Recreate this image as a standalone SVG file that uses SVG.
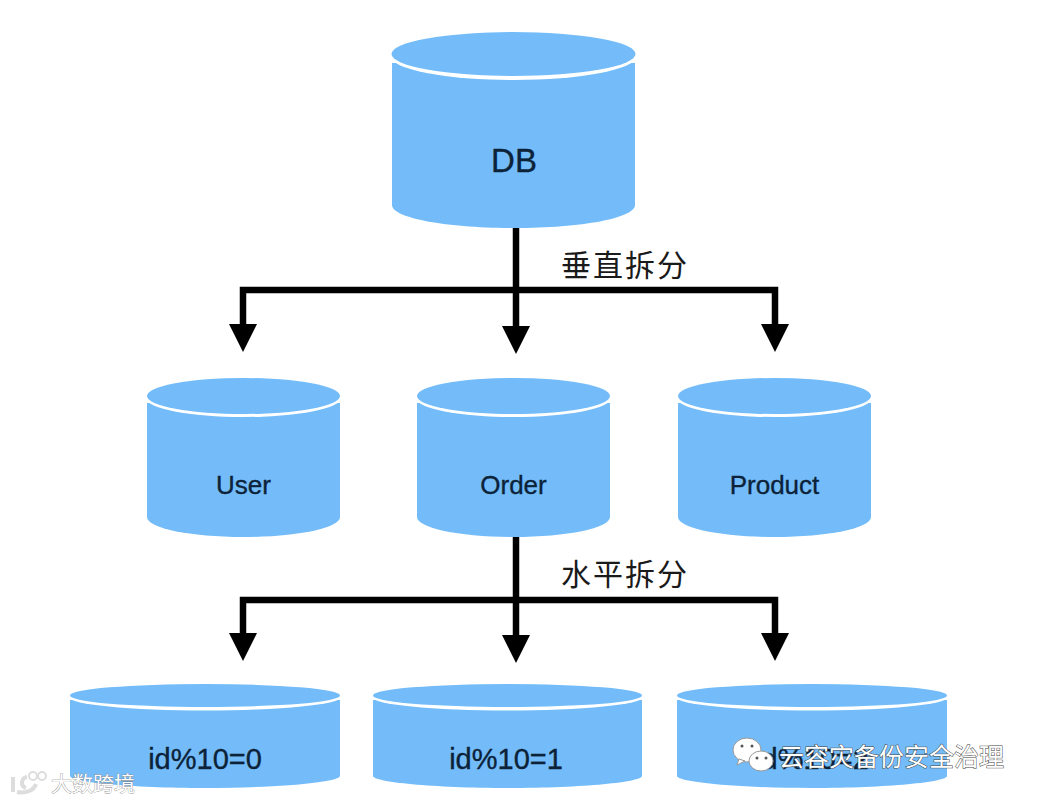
<svg xmlns="http://www.w3.org/2000/svg" width="1038" height="802" viewBox="0 0 1038 802">
<style>
.body{fill:#73bcf9}
.rim{fill:#fff}
.top{fill:#73bcf9}
.wire{fill:none;stroke:#000;stroke-width:6.5}
.lab{font-family:"Liberation Sans",Arial,sans-serif;fill:#0c2238;stroke:#0c2238;stroke-width:.35px;text-anchor:middle}
.cn{font-family:"Noto Sans CJK SC","Noto Sans",sans-serif;fill:#1a1a1a;font-size:30px;letter-spacing:2px}
.wm{font-family:"Noto Sans CJK SC","Noto Sans",sans-serif;fill:#fff;stroke:#444;stroke-width:1px;paint-order:stroke}
.mark{fill:#fff;stroke:#999;stroke-width:1}
.eye{fill:#555}
</style>
<rect width="1038" height="802" fill="#fff"/>
<g id="connectors">
<path class="wire" d="M516 226V326"/>
<path class="wire" d="M243 326V290H775V326"/>
<path class="wire" d="M516 536V636"/>
<path class="wire" d="M243 636V600H775V636"/>
<path d="M229 324H257L243 352Z M502 326H530L516 354Z M761 324H789L775 352Z M229 633H257L243 661Z M502 635H530L516 663Z M761 633H789L775 661Z" fill="#000"/>
</g>
<g id="db">
<path class="body" d="M392 63V205C392 218 446 228 514 228S635 218 635 205V63Z"/>
<ellipse class="rim" cx="513.500" cy="56" rx="123" ry="24"/>
<ellipse class="top" cx="513.500" cy="54" rx="122" ry="22"/>
<text class="lab" x="514" y="172" font-size="33">DB</text>
</g>
<g id="user">
<path class="body" d="M147 403V517C147 528 190 537 243.500 537S340 528 340 517V403Z"/>
<ellipse class="rim" cx="243.500" cy="398" rx="97.500" ry="19"/>
<ellipse class="top" cx="243.500" cy="396" rx="96.500" ry="18"/>
<text class="lab" x="243.500" y="494" font-size="26">User</text>
</g>
<g id="order">
<path class="body" d="M417 403V517C417 528 460 537 513.500 537S610 528 610 517V403Z"/>
<ellipse class="rim" cx="513.500" cy="398" rx="97.500" ry="19"/>
<ellipse class="top" cx="513.500" cy="396" rx="96.500" ry="18"/>
<text class="lab" x="513.500" y="494" font-size="26">Order</text>
</g>
<g id="product">
<path class="body" d="M678 403V517C678 528 721 537 774.500 537S871 528 871 517V403Z"/>
<ellipse class="rim" cx="774.500" cy="398" rx="97.500" ry="19"/>
<ellipse class="top" cx="774.500" cy="396" rx="96.500" ry="18"/>
<text class="lab" x="774.500" y="494" font-size="26">Product</text>
</g>
<g id="shard0">
<path class="body" d="M70 700V776C70 782 130 788 205 788S340 782 340 776V700Z"/>
<ellipse class="rim" cx="205" cy="697" rx="136" ry="13.500"/>
<ellipse class="top" cx="205" cy="695.500" rx="135" ry="11.500"/>
<text class="lab" x="205" y="769" font-size="29">id%10=0</text>
</g>
<g id="shard1">
<path class="body" d="M373 700V776C373 782 433 788 508 788S642 782 642 776V700Z"/>
<ellipse class="rim" cx="507.500" cy="697" rx="135.500" ry="13.500"/>
<ellipse class="top" cx="507.500" cy="695.500" rx="134.500" ry="11.500"/>
<text class="lab" x="506" y="769" font-size="29">id%10=1</text>
</g>
<g id="shard2">
<path class="body" d="M677 700V776C677 782 737 788 812 788S947 782 947 776V700Z"/>
<ellipse class="rim" cx="812" cy="697" rx="136" ry="13.500"/>
<ellipse class="top" cx="812" cy="695.500" rx="135" ry="11.500"/>
<text class="lab" x="812" y="769" font-size="29">id%10=2</text>
</g>
<text class="cn" x="561" y="276">垂直拆分</text>
<text class="cn" x="561" y="585">水平拆分</text>
<g id="watermark-left">
<path d="M13 777V792M17 792C26 794 34 790 36 784M27 777C21 778 20 786 26 788" fill="none" stroke="#ddd" stroke-width="4"/>
<circle cx="33" cy="776" r="4" fill="none" stroke="#ddd" stroke-width="2"/>
<circle cx="42" cy="776" r="4" fill="none" stroke="#ddd" stroke-width="2"/>
<text class="wm" x="51" y="791" font-size="21" style="stroke-width:.6px;stroke:#777">大数跨境</text>
</g>
<g id="watermark-right">
<ellipse class="mark" cx="747" cy="750" rx="14" ry="12"/>
<path class="mark" d="M739 759L737 765L745 761Z"/>
<ellipse class="mark" cx="761" cy="761" rx="12" ry="10"/>
<circle class="eye" cx="742" cy="746" r="1.500"/>
<circle class="eye" cx="752" cy="746" r="1.500"/>
<circle class="eye" cx="757" cy="758" r="1.500"/>
<circle class="eye" cx="766" cy="758" r="1.500"/>
<text class="wm" x="779" y="766" font-size="25">云容灾备份安全治理</text>
</g>
</svg>
